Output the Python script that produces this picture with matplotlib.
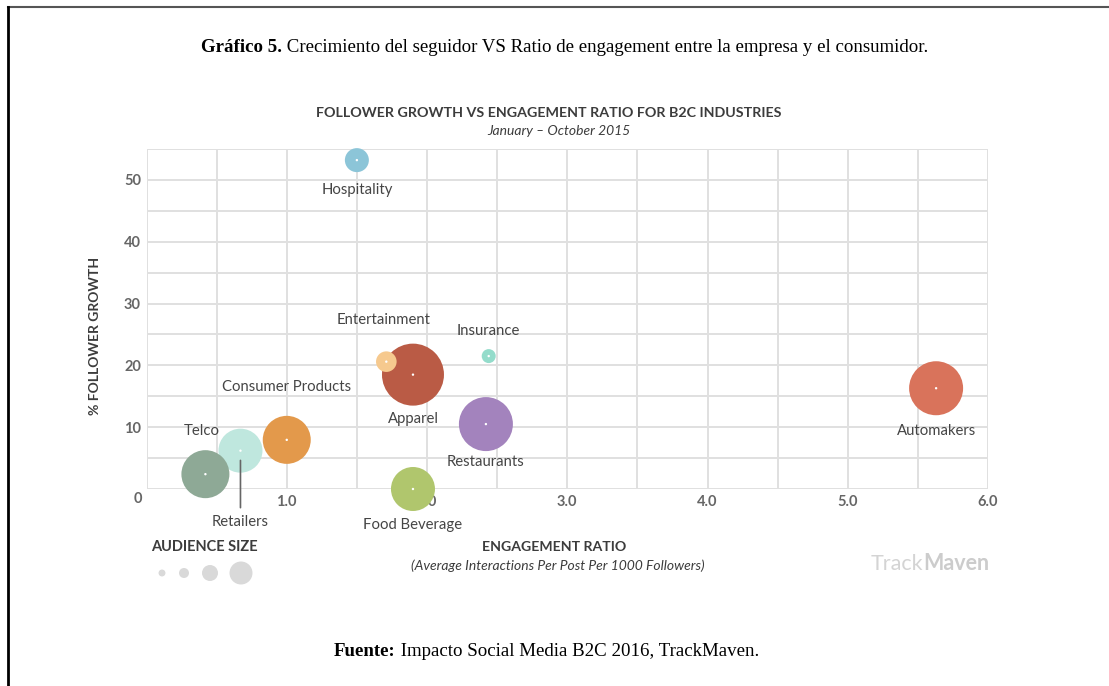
import numpy as np
import matplotlib
matplotlib.use('Agg')
import matplotlib.pyplot as plt
from matplotlib.lines import Line2D

### Industry data (engagement ratio, % follower growth, relative audience size)
industries = ['Hospitality', 'Apparel', 'Entertainment', 'Insurance', 'Retailers',
              'Telco', 'Consumer Products', 'Restaurants', 'Food Beverage', 'Automakers']
engagement = [1.50, 1.90, 1.71, 2.44, 0.67, 0.42, 1.00, 2.42, 1.90, 5.63]
growth = [53.2, 18.5, 20.6, 21.5, 6.2, 2.4, 7.95, 10.5, 0.0, 16.3]
audience = [144, 961, 106, 49, 484, 576, 576, 729, 484, 729]
colors = ['#8cc5d8', '#ba5b45', '#f6c98e', '#94dccb', '#bfe7de',
          '#8ea996', '#e3994b', '#a383bd', '#b0c66d', '#d9735b']
### label offsets in pixels (dx, dy) from each bubble centre
label_offsets = [(0, -30), (0, -44), (-3, 42), (0, 25), (0, -71),
                 (-4, 43), (0, 53), (0, -38), (0, -36), (0, -43)]

x_ticks = [1.0, 2.0, 3.0, 4.0, 5.0, 6.0]
y_ticks = [0, 10, 20, 30, 40, 50]
legend_sizes = [12, 25, 64, 132]

W, H = 1109, 686
DPI = 100
PX = 72.0 / DPI  # points per pixel

plt.rcParams['font.family'] = ['Lato', 'DejaVu Sans']
fig = plt.figure(figsize=(W / DPI, H / DPI), dpi=DPI)
fig.patch.set_facecolor('white')

### main bubble axes
x0, x1, y0, y1 = 146.5, 988, 149, 489
ax = fig.add_axes([x0 / W, (H - y1) / H, (x1 - x0) / W, (y1 - y0) / H])
ax.set_xlim(0, 6)
ax.set_ylim(0, 55)
ax.set_axisbelow(True)
for s in ax.spines.values():
    s.set_visible(False)
ax.set_xticks(np.arange(0, 6.01, 0.5))
ax.set_yticks(np.arange(0, 55.1, 5))
ax.set_xticklabels(['%.1f' % v if v in x_ticks else '' for v in np.arange(0, 6.01, 0.5)])
ax.set_yticklabels([str(int(v)) if v in y_ticks and v > 0 else '' for v in np.arange(0, 55.1, 5)])
ax.tick_params(length=0, labelsize=10.5, labelcolor='#666666', pad=4)
for lab in ax.get_xticklabels() + ax.get_yticklabels():
    lab.set_fontweight('bold')
ax.grid(True, color='#e0e0e0', linewidth=1.4)
ax.annotate('0', (0, 0), xytext=(-9, -10), textcoords='offset pixels',
            ha='center', va='center', fontsize=10.5, color='#666666', fontweight='bold')

sizes = [(2 * np.sqrt(a) * PX) ** 2 for a in audience]
ax.scatter(engagement, growth, s=sizes, c=colors, edgecolors='none', clip_on=False, zorder=2)
ax.scatter(engagement, growth, s=3, c='white', edgecolors='none', clip_on=False, zorder=3)

for name, x, y, (dx, dy) in zip(industries, engagement, growth, label_offsets):
    ax.annotate(name, (x, y), xytext=(dx, dy), textcoords='offset pixels',
                ha='center', va='center', fontsize=10.7, color='#454545', zorder=4)

### leader line under Retailers
ri = industries.index('Retailers')
ax.annotate('', (engagement[ri], growth[ri]), xytext=(0, -57), textcoords='offset pixels',
            xycoords='data', annotation_clip=False,
            arrowprops=dict(arrowstyle='-', color='#666666', lw=1.2, shrinkA=0, shrinkB=7))

### overlay in pixel coordinates for page text and frame
ov = fig.add_axes([0, 0, 1, 1], zorder=-1)
ov.set_xlim(0, W)
ov.set_ylim(H, 0)
ov.axis('off')

ov.add_line(Line2D([8, W], [7, 7], color='#555555', lw=1.5))
ov.add_line(Line2D([8, 8], [7, H], color='black', lw=2))

t1 = ov.text(201, 48, 'Gráfico 5.', fontsize=13.6, fontweight='bold', va='center',
             family='Liberation Serif', color='black')
ov.annotate(' Crecimiento del seguidor VS Ratio de engagement entre la empresa y el consumidor.',
            xy=(1, 0.5), xycoords=t1, va='center', fontsize=13.6, family='Liberation Serif')
t2 = ov.text(334, 652, 'Fuente:', fontsize=13.6, fontweight='bold', va='center',
             family='Liberation Serif', color='black')
ov.annotate(' Impacto Social Media B2C 2016, TrackMaven.',
            xy=(1, 0.5), xycoords=t2, va='center', fontsize=13.6, family='Liberation Serif')

ov.text(549, 113, 'FOLLOWER GROWTH VS ENGAGEMENT RATIO FOR B2C INDUSTRIES', ha='center',
        va='center', fontsize=10.3, fontweight='bold', color='#3c3c3c')
ov.text(559, 131, 'January – October 2015', ha='center', va='center', fontsize=10,
        style='italic', color='#3c3c3c')
ov.text(95, 336, '% FOLLOWER GROWTH', ha='center', va='center', rotation=90,
        fontsize=10, fontweight='bold', color='#3c3c3c')
ov.text(554, 547, 'ENGAGEMENT RATIO', ha='center', va='center', fontsize=10.2,
        fontweight='bold', color='#3c3c3c')
ov.text(558, 566, '(Average Interactions Per Post Per 1000 Followers)', ha='center',
        va='center', fontsize=10, style='italic', color='#3c3c3c')
ov.text(204, 547, 'AUDIENCE SIZE', ha='center', va='center', fontsize=10.5,
        fontweight='bold', color='#3c3c3c')

### audience size legend bubbles
leg_x = [162, 184, 210, 241]
for lx, a in zip(leg_x, legend_sizes):
    ov.add_patch(plt.Circle((lx, 573), np.sqrt(a), color='#d9d9d9', lw=0))

t3 = ov.text(871, 564, 'Track', fontsize=15.5, va='center', color='#d4d4d4')
ov.annotate('Maven', xy=(1, 0.5), xycoords=t3, va='center', fontsize=15.5,
            fontweight='bold', color='#cccccc')

fig.savefig('out.png', dpi=DPI)
